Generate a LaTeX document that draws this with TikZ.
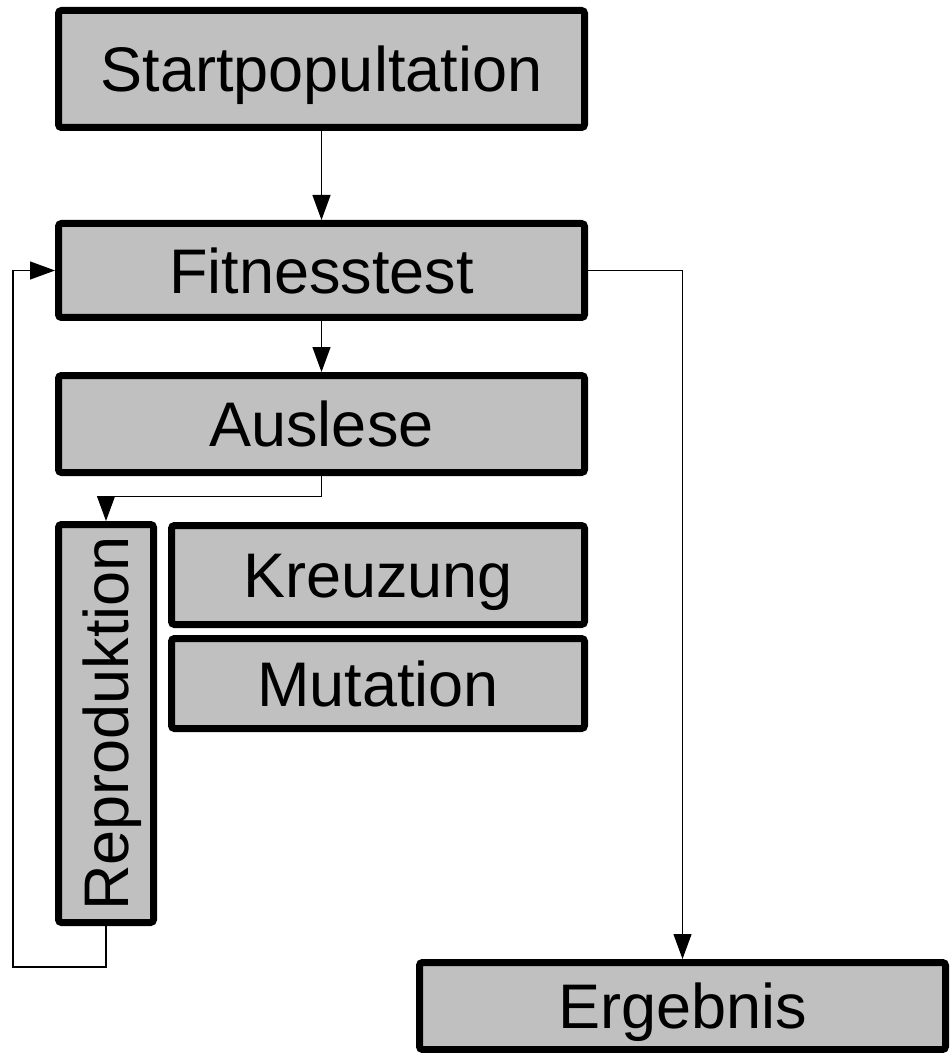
\documentclass[tikz,border=0pt]{standalone}
\usepackage{fontspec}
\setmainfont{Liberation Sans}
\usepackage{tikz}
\usetikzlibrary{arrows.meta}

\tikzset{
  box/.style={draw=black, fill=boxgray, line width=3.5pt, rounded corners=1.5pt,
    font=\fontsize{31.5pt}{36pt}\selectfont, text height=22.5pt, text depth=0pt,
    inner sep=0pt, anchor=center},
  flow/.style={draw=black, line width=0.6pt, -{Triangle[length=12.5pt,width=9pt]}}
}
\definecolor{boxgray}{HTML}{C0C0C0}

\begin{document}
\begin{tikzpicture}[x=0.5pt, y=-0.5pt]
\useasboundingbox (0,0) rectangle (949,1053);

\node[box, minimum width=263pt, minimum height=58.5pt] (start) at (321.5,69) {Startpopultation};
\node[box, minimum width=263pt, minimum height=47pt] (fit) at (321.5,270.5) {Fitnesstest};
\node[box, minimum width=263pt, minimum height=48.5pt] (aus) at (321.5,424) {Auslese};
\node[box, rotate=90, minimum width=199pt, minimum height=47.5pt] (repro) at (106,723.5) {Reproduktion};
\node[box, minimum width=206.5pt, minimum height=49.5pt] (kreuz) at (378,575) {Kreuzung};
\node[box, minimum width=206.5pt, minimum height=45pt] (mut) at (378,683.5) {Mutation};
\node[box, minimum width=263pt, minimum height=43.5pt] (erg) at (682.5,1006) {Ergebnis};

\coordinate (split) at (321.5,496.5);
\coordinate (back) at (13,967);

\draw[flow] (start) -- (fit);
\draw[flow] (fit) -- (aus);
\draw[flow] (aus.south) -- (split) -| (repro.east);
\draw[flow] (repro.west) |- (back) |- (fit.west);
\draw[flow] (fit.east) -| (erg.north);
\end{tikzpicture}
\end{document}
